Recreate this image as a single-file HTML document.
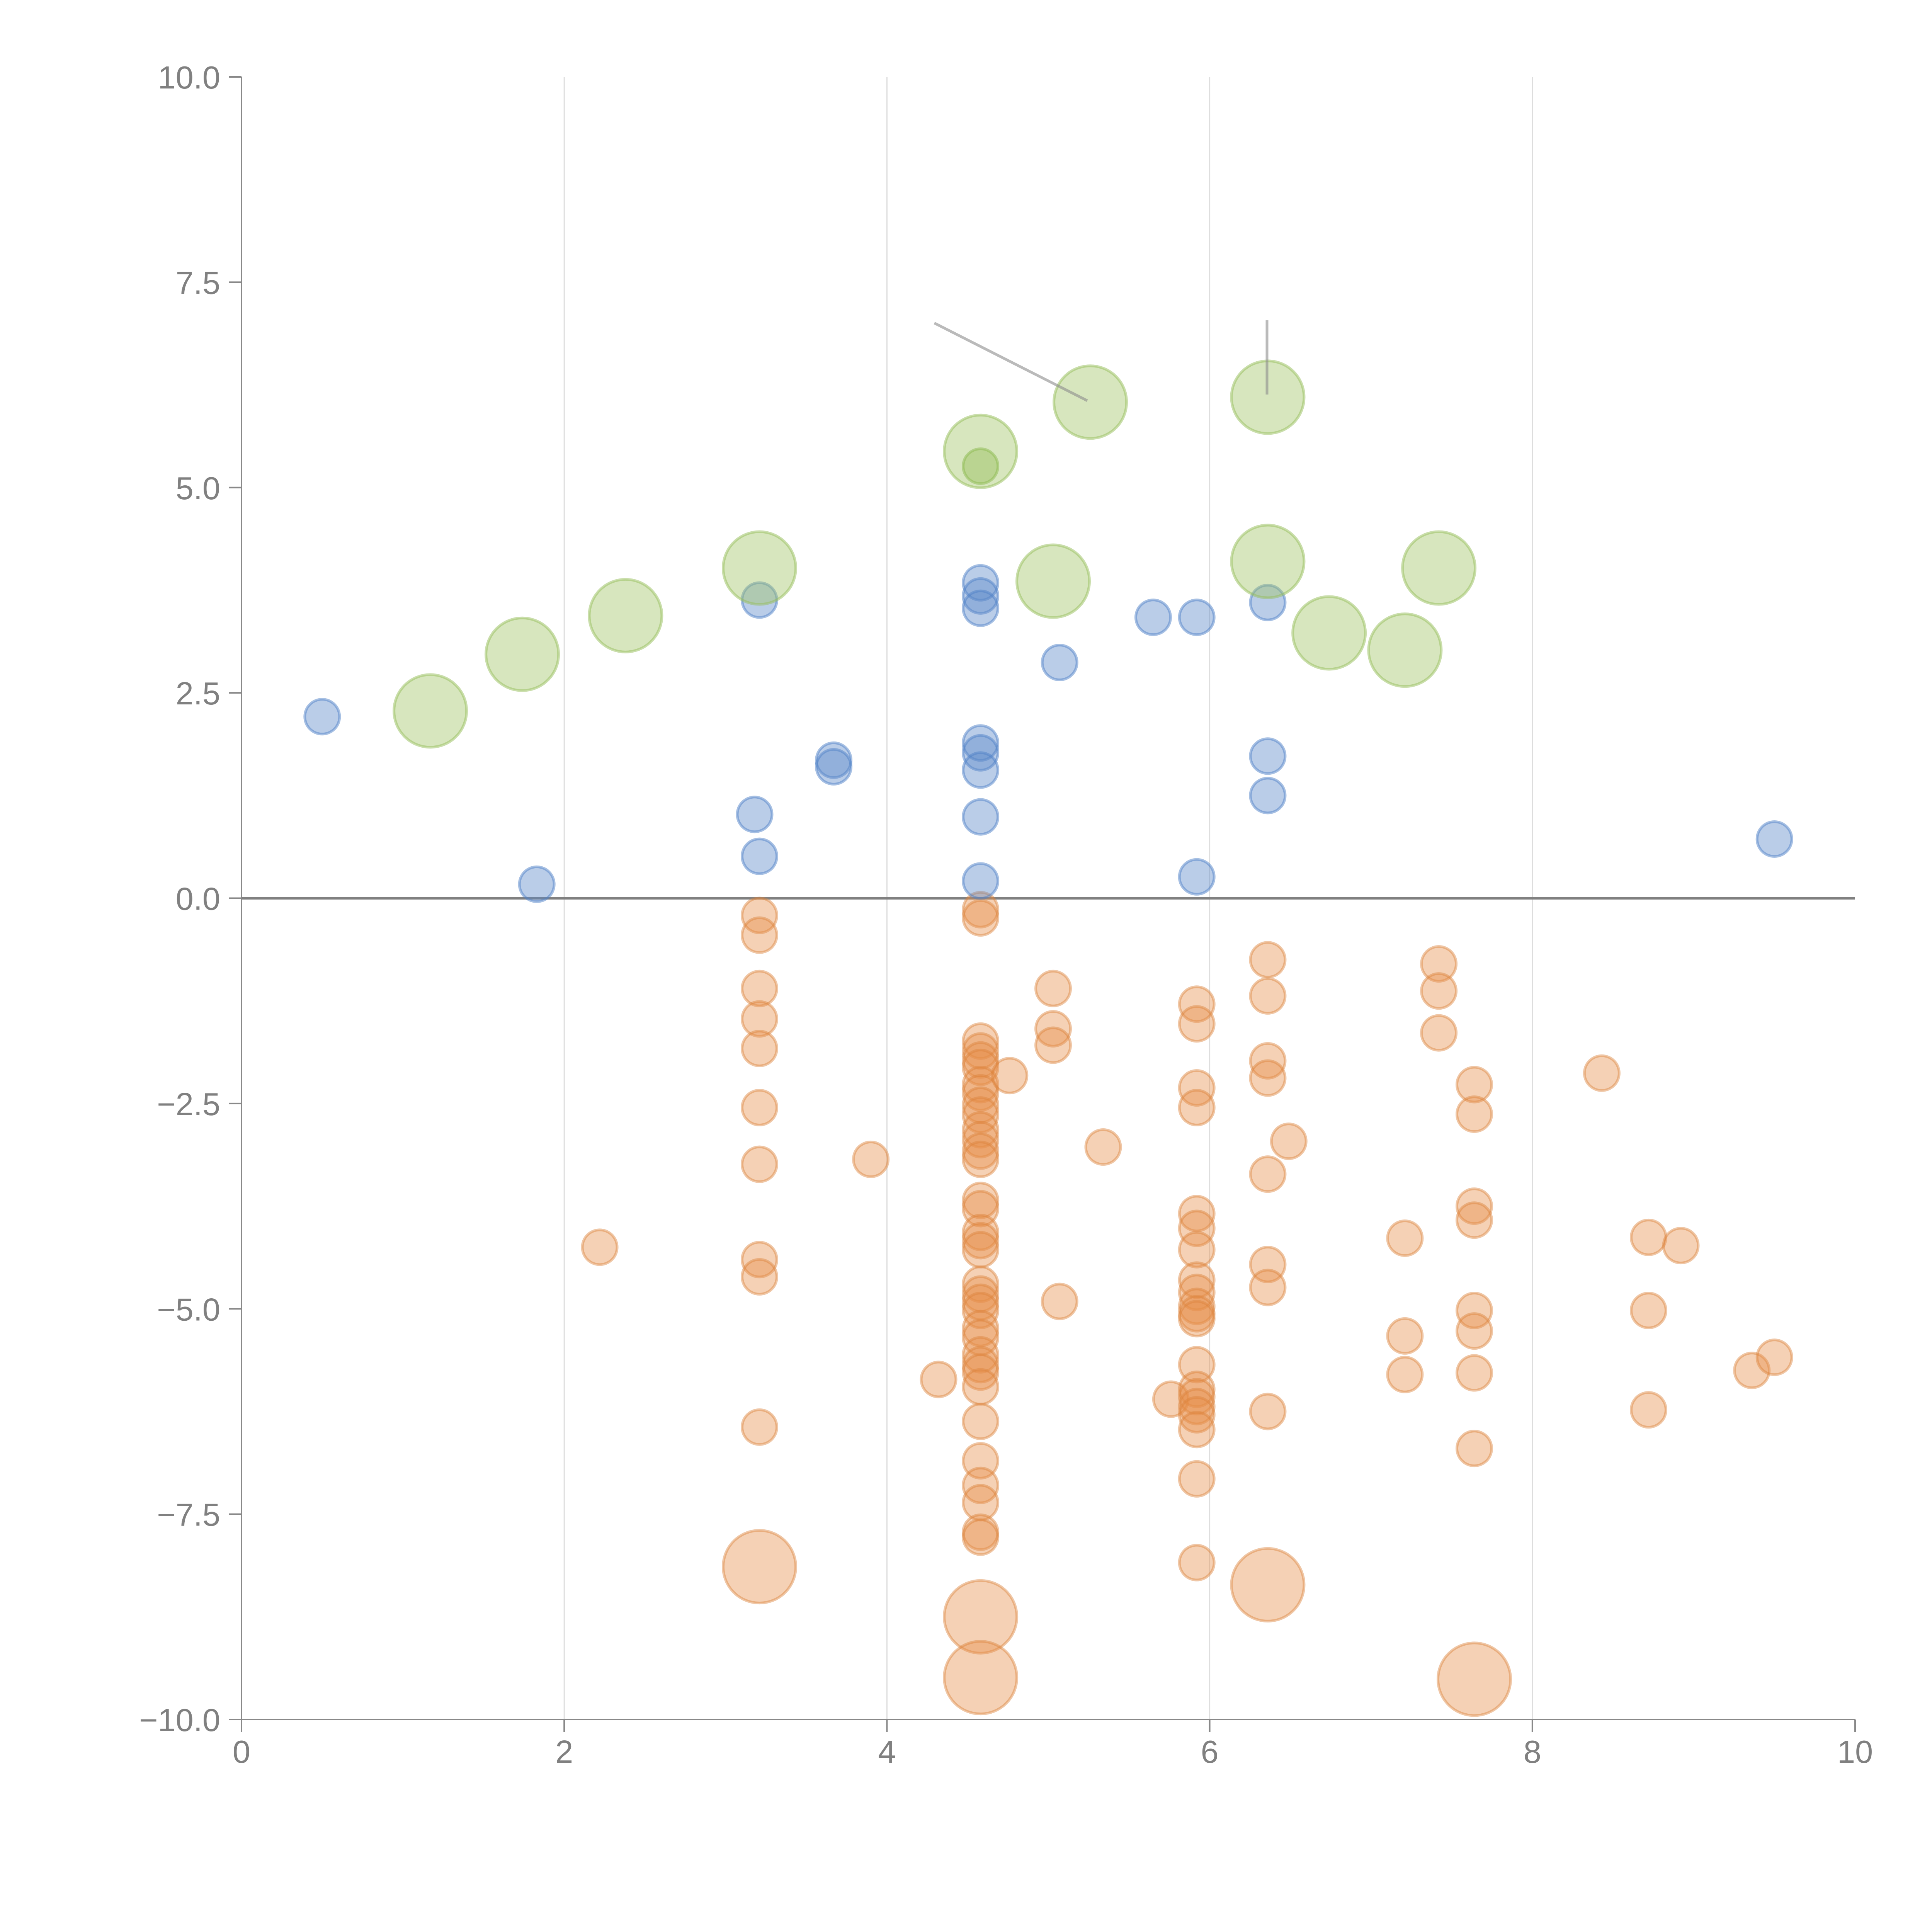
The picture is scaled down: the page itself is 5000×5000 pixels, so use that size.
<!DOCTYPE html>
<html><head><meta charset="utf-8"><style>
html,body{margin:0;padding:0;background:#fff;}
svg{display:block;font-family:"Liberation Sans",sans-serif;}
</style></head><body>
<svg id="chart" width="5000" height="5000" viewBox="0 0 5000 5000" xmlns="http://www.w3.org/2000/svg">
<g id="grid"></g>
<g id="axes"></g>
<g id="marks"></g>
</svg>
<script>
const xTicks=[0,2,4,6,8,10];
const yTicks=[10,7.5,5,2.5,0,-2.5,-5,-7.5,-10];
const yTickLabels=["10.0","7.5","5.0","2.5","0.0","\u22122.5","\u22125.0","\u22127.5","\u221210.0"];
const blueX=[0.50,1.83,3.21,3.18,3.21,3.67,3.67,4.58,4.58,4.58,4.58,4.58,4.58,4.58,4.58,5.07,5.65,5.92,5.92,6.36,6.36,6.36,9.50];
const blueY=[2.21,0.17,3.63,1.02,0.51,1.68,1.60,3.84,3.68,3.53,1.89,1.77,1.56,0.99,0.21,2.87,3.42,3.42,0.26,3.60,1.73,1.25,0.72];
const greenBigX=[1.17,1.74,2.38,3.21,4.58,5.03,5.26,6.36,6.36,6.74,7.21,7.42];
const greenBigY=[2.28,2.97,3.44,4.02,5.44,3.86,6.04,6.10,4.10,3.23,3.02,4.02];
const greenSmallX=[4.58];
const greenSmallY=[5.26];
const orangeX=[3.21,3.21,3.21,3.21,3.21,3.21,3.21,3.21,3.21,3.21,2.22,3.90,4.32,
4.58,4.58,4.58,4.58,4.58,4.58,4.58,4.58,4.58,4.58,4.58,4.58,4.58,4.58,4.58,4.58,4.58,4.58,4.58,4.58,4.58,4.58,4.58,4.58,4.58,4.58,4.58,4.58,4.58,4.58,4.58,4.58,4.58,4.58,4.58,
4.76,5.03,5.03,5.03,5.07,5.34,5.76,
5.92,5.92,5.92,5.92,5.92,5.92,5.92,5.92,5.92,5.92,5.92,5.92,5.92,5.92,5.92,5.92,5.92,5.92,5.92,5.92,
6.36,6.36,6.36,6.36,6.36,6.36,6.36,6.36,6.49,
7.21,7.21,7.21,7.42,7.42,7.42,
7.64,7.64,7.64,7.64,7.64,7.64,7.64,7.64,
8.43,8.72,8.72,8.72,8.92,9.36,9.50];
const orangeY=[-0.21,-0.45,-1.10,-1.47,-1.83,-2.55,-3.24,-4.40,-4.61,-6.44,-4.25,-3.18,-5.86,
-0.14,-0.24,-1.74,-1.86,-1.97,-2.06,-2.27,-2.37,-2.52,-2.64,-2.82,-2.94,-3.08,-3.18,-3.68,-3.78,-4.07,-4.17,-4.28,-4.70,-4.82,-4.92,-5.02,-5.24,-5.35,-5.56,-5.68,-5.77,-5.95,-6.37,-6.85,-7.15,-7.36,-7.72,-7.78,
-2.16,-1.10,-1.59,-1.79,-4.91,-3.03,-6.10,
-1.29,-1.53,-2.31,-2.55,-3.84,-4.02,-4.28,-4.65,-4.80,-4.97,-5.06,-5.12,-5.68,-5.98,-6.07,-6.19,-6.29,-6.47,-7.07,-8.09,
-0.75,-1.19,-1.98,-2.19,-3.36,-4.46,-4.74,-6.25,-2.96,
-4.14,-5.33,-5.80,-0.80,-1.13,-1.64,
-2.27,-2.63,-3.75,-3.92,-5.02,-5.27,-5.78,-6.70,
-2.13,-4.13,-5.02,-6.23,-4.23,-5.75,-5.59];
const orangeBigX=[3.21,4.58,4.58,6.36,7.64];
const orangeBigY=[-8.14,-8.75,-9.49,-8.36,-9.51];

const X0=625,X1=4801,Y0=4450,Y1=199;
const sx=v=>X0+(v-0)/(10-0)*(X1-X0);
const sy=v=>Y0-(v+10)/20*(Y0-Y1);
const NS="http://www.w3.org/2000/svg";
function mk(tag,attrs,parent){const e=document.createElementNS(NS,tag);for(const k in attrs)e.setAttribute(k,attrs[k]);parent.appendChild(e);return e;}
const grid=document.getElementById('grid'),axes=document.getElementById('axes'),marks=document.getElementById('marks');
xTicks.forEach(t=>{if(t>0&&t<10){const l=mk('line',{x1:sx(t),x2:sx(t),y1:Y1,y2:Y0,stroke:'#dddddd','stroke-width':3},grid);

}});
const ya=mk('line',{x1:X0,x2:X0,y1:Y1,y2:Y0,stroke:'#888','stroke-width':4},axes);


const xa=mk('line',{x1:X0,x2:X1,y1:Y0,y2:Y0,stroke:'#888','stroke-width':4},axes);


const zl=mk('line',{x1:X0,x2:X1,y1:sy(0),y2:sy(0),stroke:'#808080','stroke-width':7},axes);


yTicks.forEach((t,i)=>{mk('line',{x1:X0-33,x2:X0,y1:sy(t),y2:sy(t),stroke:'#888','stroke-width':4},axes);
const tx=mk('text',{x:X0-55,y:sy(t)+30,'text-anchor':'end','font-size':83,fill:'#808080'},axes);tx.textContent=yTickLabels[i];

});
xTicks.forEach(t=>{mk('line',{x1:sx(t),x2:sx(t),y1:Y0,y2:Y0+33,stroke:'#888','stroke-width':4},axes);
const tx=mk('text',{x:sx(t),y:Y0+112,'text-anchor':'middle','font-size':83,fill:'#808080'},axes);tx.textContent=String(t);

});
function series(xs,ys,r,fill,stroke,name){xs.forEach((x,i)=>{const c=mk('circle',{cx:sx(x),cy:sy(ys[i]),r:r,fill:fill,stroke:stroke,'stroke-width':7},marks);

});}
series(orangeX,orangeY,45,'rgba(230,140,70,0.4)','rgba(220,130,60,0.45)','orange-bubble');
series(orangeBigX,orangeBigY,94,'rgba(230,140,70,0.4)','rgba(220,130,60,0.45)','orange-large-bubble');
series(blueX,blueY,45,'rgba(90,135,200,0.42)','rgba(80,130,200,0.5)','blue-bubble');
series(greenBigX,greenBigY,94,'rgba(160,196,100,0.42)','rgba(150,190,90,0.5)','green-large-bubble');
series(greenSmallX,greenSmallY,45,'rgba(150,190,90,0.45)','rgba(140,185,80,0.5)','green-bubble');
const l1=mk('line',{x1:2418,y1:836,x2:2814,y2:1037,stroke:'rgba(140,140,140,0.6)','stroke-width':7},marks);


const l2=mk('line',{x1:3279,y1:829,x2:3279,y2:1021,stroke:'rgba(140,140,140,0.6)','stroke-width':7},marks);


</script>
</body></html>
